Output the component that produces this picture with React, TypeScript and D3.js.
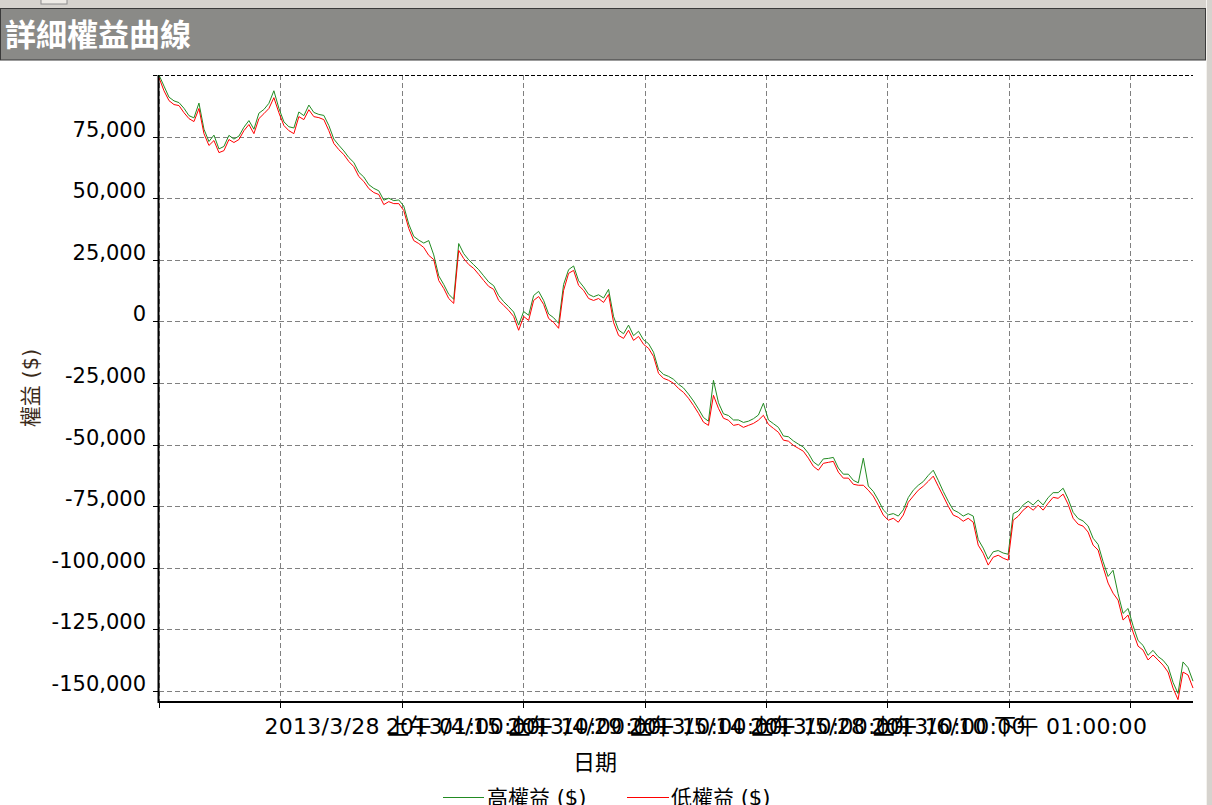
import React from "react";
import * as d3 from "d3";

// ---- data (equity in thousands of $) ----
const lowEquityK = [
  98.9, 93.6, 89.6, 88.0, 87.6, 84.7, 82.3, 81.1, 86.4, 76.2,
  71.4, 73.4, 68.5, 69.3, 73.8, 72.6, 73.8, 77.4, 79.9, 76.2,
  82.3, 84.3, 86.4, 90.8, 84.7, 79.5, 77.4, 76.2, 83.1, 81.9,
  85.9, 83.1, 82.7, 81.9, 77.4, 72.2, 69.7, 67.7, 64.9, 62.8,
  58.8, 56.8, 53.9, 52.3, 51.5, 47.4, 48.6, 47.8, 47.8, 45.0,
  37.7, 32.8, 31.6, 30.0, 26.8, 25.1, 16.6, 13.4, 9.3, 7.3,
  28.8, 25.5, 23.1, 21.5, 19.1, 16.6, 14.2, 13.0, 8.5, 6.5,
  4.5, 2.0, -3.6, 2.0, 0.4, 8.5, 10.1, 6.9, 1.2, -0.4,
  -2.8, 12.6, 19.5, 20.7, 14.6, 12.6, 9.3, 8.5, 9.3, 7.7,
  10.9, -0.4, -5.7, -6.9, -3.6, -7.7, -6.1, -9.3, -10.9, -14.2,
  -21.1, -23.1, -23.9, -25.1, -27.2, -28.8, -31.2, -34.1, -37.3, -40.9,
  -42.2, -30.0, -35.3, -39.3, -40.1, -42.2, -41.8, -43.0, -42.2, -41.4,
  -40.1, -38.1, -41.8, -43.4, -45.0, -48.2, -48.6, -50.3, -51.5, -52.7,
  -55.5, -58.8, -60.4, -57.6, -57.2, -56.8, -61.2, -63.6, -63.6, -66.1,
  -66.5, -66.5, -68.5, -70.9, -74.6, -78.6, -80.7, -79.9, -81.5, -78.6,
  -73.4, -70.9, -68.5, -66.9, -64.9, -62.8, -66.9, -70.9, -75.0, -78.6,
  -79.5, -81.1, -79.9, -81.5, -90.8, -94.1, -98.9, -95.7, -94.9, -96.1,
  -96.9, -80.7, -79.1, -76.6, -75.0, -76.6, -74.6, -76.6, -73.8, -71.4,
  -71.8, -70.1, -74.2, -79.9, -82.3, -83.1, -85.5, -90.8, -92.8, -99.7,
  -106.2, -110.3, -113.1, -121.2, -119.2, -126.1, -131.8, -133.4, -137.4, -135.4,
  -137.4, -139.5, -142.3, -148.8, -153.5, -142.3, -143.5, -148.8,
];

const highEquityK = [
  100.0, 95.5, 91.0, 89.5, 88.8, 86.5, 83.5, 82.6, 88.6, 78.0,
  73.0, 75.6, 70.0, 71.0, 75.5, 74.0, 75.2, 78.8, 81.5, 78.0,
  84.5, 86.0, 88.5, 93.6, 86.5, 81.0, 79.0, 78.5, 85.0, 83.5,
  87.8, 84.8, 84.0, 83.6, 79.5, 74.0, 71.5, 69.2, 66.5, 64.5,
  60.5, 58.6, 55.5, 54.0, 53.0, 49.2, 50.0, 49.0, 49.3, 46.8,
  39.5, 34.5, 33.0, 31.8, 32.8, 27.0, 18.5, 15.0, 11.0, 9.0,
  31.6, 27.5, 25.0, 23.0, 21.0, 18.5, 16.0, 14.5, 10.5, 8.0,
  6.0, 3.8, -1.5, 4.0, 2.5, 10.5, 12.2, 8.5, 3.0, 1.5,
  -0.8, 15.0, 21.0, 22.5, 16.5, 14.0, 11.0, 10.0, 10.8, 9.5,
  13.0, 2.0, -3.5, -5.0, -1.5, -5.8, -4.0, -7.5, -9.0, -12.5,
  -19.5, -21.5, -22.3, -23.5, -25.5, -27.0, -29.5, -32.3, -35.5, -39.0,
  -40.5, -23.9, -33.0, -37.5, -38.2, -40.0, -40.0, -41.0, -40.5, -39.5,
  -38.0, -33.2, -40.0, -41.5, -43.0, -46.5, -46.8, -48.5, -49.8, -51.0,
  -53.5, -57.0, -58.5, -55.8, -55.6, -55.2, -59.5, -62.0, -62.0, -64.5,
  -65.5, -55.5, -66.8, -69.0, -72.5, -76.5, -78.5, -78.0, -79.0, -76.5,
  -71.5, -68.5, -66.5, -65.0, -62.5, -60.4, -64.5, -69.0, -73.0, -76.5,
  -77.5, -79.0, -78.0, -79.0, -88.5, -92.0, -96.5, -93.5, -93.0, -94.0,
  -94.5, -78.0, -77.0, -74.5, -73.0, -74.5, -72.5, -74.5, -71.5, -69.5,
  -69.5, -67.7, -72.0, -77.5, -80.0, -81.0, -83.0, -88.0, -90.5, -97.5,
  -103.5, -101.0, -110.5, -118.5, -116.5, -123.5, -129.5, -131.5, -135.5, -133.5,
  -136.0, -137.5, -140.0, -146.5, -151.0, -138.2, -140.5, -146.0,
];

const yTicks = [75000, 50000, 25000, 0, -25000, -50000, -75000, -100000, -125000, -150000];
const yDomain = [-154460, 100000];
const pointsPerXTick = 24.3;
const xTickCount = 9;
const xTickLabels = [
  "",
  "2013/3/28 上午 01:00:00",
  "2013/4/15 上午 10:00:00",
  "2013/4/29 上午 10:00:00",
  "2013/5/14 上午 10:00:00",
  "2013/5/28 上午 10:00:00",
  "2013/6/10 下午 01:00:00",
  "",
  "",
];
const titleText = "詳細權益曲線";
const yAxisTitle = "權益 ($)";
const xAxisTitle = "日期";
const seriesNames = ["高權益 ($)", "低權益 ($)"];
const seriesColors = ["#228b22", "#ff0000"];

const W = 1212;
const H = 805;
const plot = { left: 159, right: 1193, top: 75, bottom: 702 };
const FONT = "'DejaVu Sans', 'Noto Sans CJK TC', sans-serif";

const fmt = d3.formatLocale({
  decimal: ".",
  thousands: ",",
  grouping: [3],
  currency: ["$", ""],
  minus: "-",
}).format(",");

export default function App() {
  const x = d3
    .scaleLinear()
    .domain([0, lowEquityK.length - 1])
    .range([plot.left, plot.right]);
  const y = d3.scaleLinear().domain(yDomain).range([plot.bottom, plot.top]);

  const line = d3
    .line<number>()
    .x((_, i) => x(i))
    .y((d) => y(d * 1000));

  const xTicks = d3.range(xTickCount).map((k) => k * pointsPerXTick);

  return (
    <div style={{ position: "absolute", left: 0, top: 0 }}>
      <svg width={W} height={H} style={{ display: "block", background: "#fff" }}>
        {/* window chrome */}
        <rect x={0} y={0} width={W} height={9} fill="#d6d3ce" />
        <rect x={41} y={-1} width={26} height={5} fill="#eeebe6" stroke="#8c8c8c" />
        <rect x={0.5} y={8.5} width={1205} height={51.5} fill="#8a8a87" stroke="#3a3a3a" />
        <text
          x={5}
          y={46}
          fill="#ffffff"
          fontFamily="'Noto Sans CJK TC', sans-serif"
          fontWeight="bold"
          fontSize={31}
        >
          {titleText}
        </text>
        <rect x={1206} y={0} width={6} height={H} fill="#d6d3ce" />
        <line x1={1206.5} y1={0} x2={1206.5} y2={H} stroke="#f4f2ee" />

        {/* horizontal grid */}
        {yTicks.map((t) => (
          <line
            key={"hg" + t}
            x1={plot.left}
            x2={plot.right}
            y1={Math.round(y(t)) + 0.5}
            y2={Math.round(y(t)) + 0.5}
            stroke="#808080"
            strokeDasharray="5 3"
          />
        ))}
        {/* vertical grid */}
        {xTicks.map((t) => (
          <line
            key={"vg" + t}
            x1={Math.round(x(t)) + 0.5}
            x2={Math.round(x(t)) + 0.5}
            y1={plot.top}
            y2={plot.bottom}
            stroke="#808080"
            strokeDasharray="5 3"
          />
        ))}
        {/* top dashed border */}
        <line
          x1={153}
          x2={plot.right}
          y1={plot.top + 0.5}
          y2={plot.top + 0.5}
          stroke="#000"
          strokeDasharray="4 2"
        />

        {/* series */}
        <path d={line(highEquityK) || ""} fill="none" stroke={seriesColors[0]} strokeWidth={1} />
        <path d={line(lowEquityK) || ""} fill="none" stroke={seriesColors[1]} strokeWidth={1} />

        {/* axes */}
        <line x1={158.5} x2={158.5} y1={plot.top} y2={plot.bottom + 1} stroke="#000" strokeWidth={2} />
        <line x1={plot.left - 1} x2={plot.right} y1={plot.bottom} y2={plot.bottom} stroke="#000" strokeWidth={2} />
        {yTicks.map((t) => (
          <g key={"yt" + t}>
            <line
              x1={153}
              x2={158}
              y1={Math.round(y(t)) + 0.5}
              y2={Math.round(y(t)) + 0.5}
              stroke="#000"
            />
            <text
              x={146}
              y={Math.round(y(t))}
              textAnchor="end"
              fontFamily={FONT}
              fontSize={21}
              fill="#000"
            >
              {fmt(t)}
            </text>
          </g>
        ))}
        {xTicks.map((t, k) => (
          <g key={"xt" + k}>
            <line
              x1={Math.round(x(t)) + 0.5}
              x2={Math.round(x(t)) + 0.5}
              y1={plot.bottom}
              y2={plot.bottom + 6}
              stroke="#000"
            />
            {xTickLabels[k] ? (
              <text
                x={x(t) - 16}
                y={734}
                fontFamily={FONT}
                fontSize={22}
                letterSpacing={0.3}
                fill="#000"
              >
                {xTickLabels[k]}
              </text>
            ) : null}
          </g>
        ))}

        {/* axis titles */}
        <text
          x={595}
          y={770}
          textAnchor="middle"
          fontFamily={FONT}
          fontSize={22}
          fill="#000"
        >
          {xAxisTitle}
        </text>
        <text
          transform="translate(38,388) rotate(-90)"
          textAnchor="middle"
          fontFamily={FONT}
          fontSize={21}
          fill="#3a2a1a"
        >
          {yAxisTitle}
        </text>

        {/* legend */}
        <line x1={443} x2={484} y1={797.5} y2={797.5} stroke={seriesColors[0]} />
        <text x={487} y={805} fontFamily={FONT} fontSize={21} fill="#000">
          {seriesNames[0]}
        </text>
        <line x1={627} x2={669} y1={797.5} y2={797.5} stroke={seriesColors[1]} />
        <text x={671} y={805} fontFamily={FONT} fontSize={21} fill="#000">
          {seriesNames[1]}
        </text>
      </svg>
    </div>
  );
}
